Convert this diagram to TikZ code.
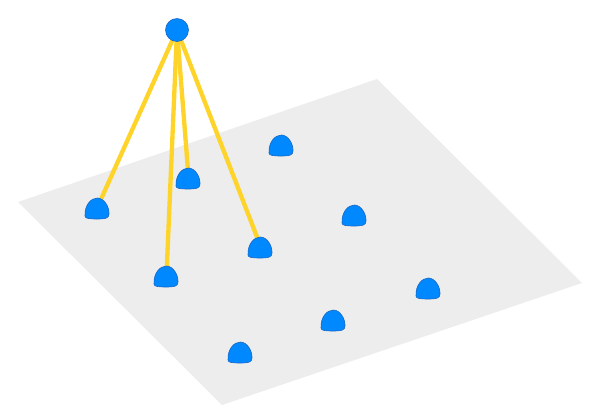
\documentclass[tikz,border=0pt]{standalone}
\usepackage{xcolor}
\usetikzlibrary{backgrounds}
\definecolor{planegray}{HTML}{EDEDED}
\definecolor{bumpblue}{HTML}{0088FF}
\definecolor{bumpedge}{HTML}{1766C4}
\definecolor{linkyellow}{HTML}{FFD42A}
\tikzset{
  hub/.style={circle,draw=bumpedge,fill=bumpblue,line width=0.5pt,
    minimum size=6.9mm,inner sep=0pt},
  link/.style={draw=linkyellow,line width=3.7pt},
  dome/.pic={
    \filldraw[draw=bumpedge,fill=bumpblue,line width=0.5pt]
      (-12,-3) .. controls (-12.5,-14) and (-6,-21) .. (0.5,-21)
      .. controls (7,-21) and (12.5,-12) .. (12,-5)
      .. controls (12,-0.5) and (8,0) .. (0,0)
      .. controls (-8,0) and (-12,-0.5) .. (-12,-3) -- cycle;
    \coordinate (-tip) at (0.5,-12);
  }
}
\begin{document}
\begin{tikzpicture}[x=0.03cm,y=-0.03cm]
\useasboundingbox (0,0) rectangle (593,417);
% points on the plane
\foreach \n/\x/\y in {1/97/219,2/188/189,3/281/156,4/354/226,5/260/258,
  6/166/287,7/428/299,8/333/331,9/240/363}
  \pic (b\n) at (\x,\y) {dome};
\node[hub] (hub) at (177,30) {};
\begin{pgfonlayer}{background}
\fill[planegray] (18,202) -- (377,79) -- (582,283) -- (222,405) -- cycle;
\draw[link] (hub.center) -- (b1-tip);
\draw[link] (hub.center) -- (b2-tip);
\draw[link] (hub.center) -- (b5-tip);
\draw[link] (hub.center) -- (b6-tip);
\end{pgfonlayer}
\end{tikzpicture}
\end{document}
